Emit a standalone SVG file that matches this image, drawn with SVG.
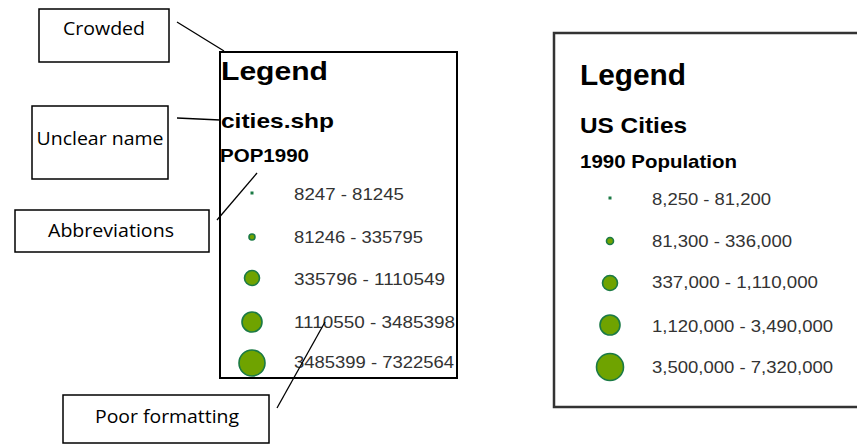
<svg xmlns="http://www.w3.org/2000/svg" width="857" height="444" viewBox="0 0 857 444">
  <style>
    .callout { fill: #ffffff; stroke: #000000; stroke-width: 1.5; }
    .note { font-family: "Open Sans", "Liberation Sans", sans-serif; font-size: 18px; fill: #000000; }
    .frame { fill: #ffffff; stroke: #000000; stroke-width: 2; }
    .frame2 { fill: #ffffff; stroke: #333333; stroke-width: 2.5; }
    .title { font-family: "Liberation Sans", Arial, sans-serif; font-weight: bold; fill: #000000; }
    .range { font-family: "Liberation Sans", Arial, sans-serif; font-size: 16px; fill: #333333; }
    .sym { fill: #6fa300; stroke: #1b7a45; stroke-width: 1.6; }
    .dot { fill: #1b7a45; }
    .pointer { stroke: #000000; stroke-width: 1.3; fill: none; }
  </style>

  <!-- legend with design problems -->
  <g id="legend-bad">
    <rect class="frame" x="220" y="52" width="237" height="326"/>
    <text class="title" x="221" y="80" font-size="25" textLength="107" lengthAdjust="spacingAndGlyphs">Legend</text>
    <text class="title" x="221" y="128" font-size="21" textLength="113" lengthAdjust="spacingAndGlyphs">cities.shp</text>
    <text class="title" x="220" y="162" font-size="18" textLength="89" lengthAdjust="spacingAndGlyphs">POP1990</text>
    <rect class="dot" x="250.5" y="191.5" width="3" height="3"/>
    <circle class="sym" cx="252" cy="237" r="3"/>
    <circle class="sym" cx="252" cy="278" r="7.5"/>
    <circle class="sym" cx="252" cy="322" r="10"/>
    <circle class="sym" cx="252" cy="363" r="13"/>
    <text class="range" x="294" y="200" textLength="110" lengthAdjust="spacingAndGlyphs">8247 - 81245</text>
    <text class="range" x="294" y="243" textLength="129" lengthAdjust="spacingAndGlyphs">81246 - 335795</text>
    <text class="range" x="294" y="285" textLength="151" lengthAdjust="spacingAndGlyphs">335796 - 1110549</text>
    <text class="range" x="294" y="328" textLength="161" lengthAdjust="spacingAndGlyphs">1110550 - 3485398</text>
    <text class="range" x="294" y="368" textLength="160" lengthAdjust="spacingAndGlyphs">3485399 - 7322564</text>
  </g>

  <!-- improved legend -->
  <g id="legend-good">
    <rect class="frame2" x="554" y="33" width="320" height="374"/>
    <text class="title" x="580" y="85" font-size="29" textLength="106" lengthAdjust="spacingAndGlyphs">Legend</text>
    <text class="title" x="580" y="133" font-size="22" textLength="107" lengthAdjust="spacingAndGlyphs">US Cities</text>
    <text class="title" x="580" y="168" font-size="19" textLength="157" lengthAdjust="spacingAndGlyphs">1990 Population</text>
    <rect class="dot" x="608.5" y="196.5" width="3" height="3"/>
    <circle class="sym" cx="610" cy="241" r="3.5"/>
    <circle class="sym" cx="610" cy="283" r="7.5"/>
    <circle class="sym" cx="610" cy="325" r="10"/>
    <circle class="sym" cx="610" cy="367" r="13.5"/>
    <text class="range" x="652" y="205" textLength="119" lengthAdjust="spacingAndGlyphs">8,250 - 81,200</text>
    <text class="range" x="652" y="247" textLength="140" lengthAdjust="spacingAndGlyphs">81,300 - 336,000</text>
    <text class="range" x="652" y="288" textLength="166" lengthAdjust="spacingAndGlyphs">337,000 - 1,110,000</text>
    <text class="range" x="652" y="332" textLength="181" lengthAdjust="spacingAndGlyphs">1,120,000 - 3,490,000</text>
    <text class="range" x="652" y="373" textLength="181" lengthAdjust="spacingAndGlyphs">3,500,000 - 7,320,000</text>
  </g>

  <!-- callout boxes -->
  <g id="note-crowded">
    <rect class="callout" x="39" y="9" width="130" height="53"/>
    <text class="note" x="104" y="35" text-anchor="middle" textLength="82" lengthAdjust="spacingAndGlyphs">Crowded</text>
  </g>
  <g id="note-unclear">
    <rect class="callout" x="32" y="106" width="136" height="73"/>
    <text class="note" x="100" y="145" text-anchor="middle" textLength="127" lengthAdjust="spacingAndGlyphs">Unclear name</text>
  </g>
  <g id="note-abbrev">
    <rect class="callout" x="15" y="210" width="194" height="42"/>
    <text class="note" x="111" y="237" text-anchor="middle" textLength="126" lengthAdjust="spacingAndGlyphs">Abbreviations</text>
  </g>
  <g id="note-format">
    <rect class="callout" x="63" y="395" width="206" height="48"/>
    <text class="note" x="167" y="423" text-anchor="middle" textLength="144" lengthAdjust="spacingAndGlyphs">Poor formatting</text>
  </g>

  <!-- pointer lines -->
  <g id="connectors">
    <line class="pointer" x1="177" y1="22" x2="224" y2="51"/>
    <line class="pointer" x1="177" y1="118" x2="220" y2="120"/>
    <line class="pointer" x1="217" y1="220" x2="257" y2="173"/>
    <line class="pointer" x1="277" y1="408" x2="325" y2="322"/>
  </g>
</svg>
